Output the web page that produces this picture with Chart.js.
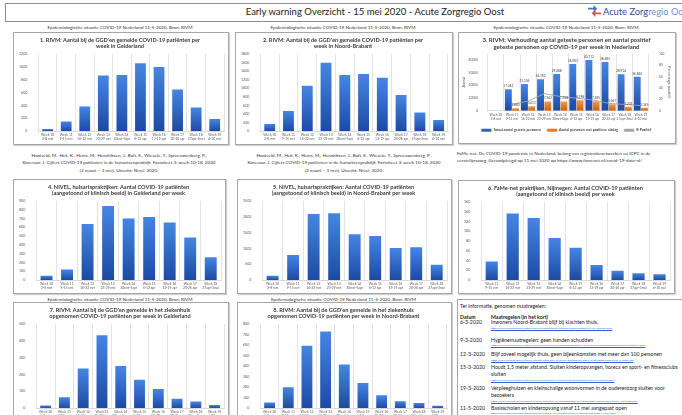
<!DOCTYPE html>
<html>
<head>
<meta charset="utf-8">
<script src="https://cdn.jsdelivr.net/npm/chart.js@4"></script>
<style>
    body { margin: 0; width: 682px; height: 415px; overflow: hidden; background: #fff; font-family: 'Lato', sans-serif; color: #333; position: relative; }
    .abs { position: absolute; }
    .box { position: absolute; border: 1px solid #a6a6a6; box-shadow: 1px 1px 1px #d0d0d0; background: #fff; }
    .box canvas { display: block; }
    .sub { position: absolute; font-size: 4.6px; color: #333; text-align: center; white-space: nowrap; }
    .cite { position: absolute; font-size: 4.6px; line-height: 7.4px; color: #333; text-align: center; }
    .info { font-size: 5.2px; color: #222; }
    .info .row { position: absolute; left: 2px; }
    .info .d { position: absolute; left: 2px; }
    .info .m { position: absolute; left: 33px; width: 188px; line-height: 6.8px; }
    .info .l { position: absolute; left: 33px; font-size: 2.6px; color: #2e62c8; text-decoration: underline; white-space: nowrap; }
</style>
</head>
<body>

<div class="abs" style="left:5px; top:3px; width:676px; height:17px; border:1px solid #8c8c8c;"></div>
<div class="abs" style="left:200px; top:6px; width:350px; text-align:center; font-size:9.5px; color:#222;">Early warning Overzicht - 15 mei 2020 - Acute Zorgregio Oost</div>
<svg class="abs" style="left:588px; top:5px;" width="13" height="12" viewBox="0 0 14 13">
    <polygon points="0,3 6,3 6,0 10,4 6,8 6,5 0,5" fill="#3d7cc9"/>
    <polygon points="14,8 8,8 8,5 4,9 8,13 8,10 14,10" fill="#d9534f"/>
</svg>
<div class="abs" style="left:603px; top:5.5px; font-size:9.3px; white-space:nowrap;"><span style="color:#2f4f9a;">Acute Zorg</span><span style="color:#7b8fd6;">regio Oost</span></div>

<div class="sub" style="left:13px; top:24px; width:214px;">Epidemiologische situatie COVID-19 Nederland 11-5-2020. Bron: RIVM</div>
<div class="sub" style="left:235px; top:24px; width:216px;">Epidemiologische situatie COVID-19 Nederland 11-5-2020. Bron: RIVM</div>
<div class="sub" style="left:458px; top:24px; width:216px;">Epidemiologische situatie COVID-19 Nederland 11-5-2020. Bron: RIVM</div>

<div class="box" style="left:13px; top:32px; width:214px; height:111px;"><canvas id="c1"></canvas></div>
<div class="box" style="left:235px; top:32px; width:216px; height:111px;"><canvas id="c2"></canvas></div>
<div class="box" style="left:458px; top:32px; width:216px; height:110px;"><canvas id="c3"></canvas></div>

<div class="cite" style="left:8px; top:152px; width:222px;">Hooiveld, M., Hek, K., Heins, M., Hendriksen, J., Bolt, E., Wiezele, Y., Spreeuwenberg, P.,<br>Korevaar, J. Cijfers COVID-19 patiënten in de huisartsenpraktijk. Factsheet 3: week 10-18, 2020<br>(2 maart – 3 mei). Utrecht: Nivel, 2020.</div>
<div class="cite" style="left:232px; top:152px; width:224px;">Hooiveld, M., Hek, K., Heins, M., Hendriksen, J., Bolt, E., Wiezele, Y., Spreeuwenberg, P.,<br>Korevaar, J. Cijfers COVID-19 patiënten in de huisartsenpraktijk. Factsheet 3: week 10-18, 2020<br>(2 maart – 3 mei). Utrecht: Nivel, 2020.</div>
<div class="cite" style="left:457px; top:150px; width:225px; text-align:left;">FaMe-net. De COVID-19 pandemie in Nederland, belang van registratienetwerken en ICPC in de<br>eerstelijnszorg. Geraadpleegd op 11 mei 2020 op https://www.famenet.nl/covid-19-data-nl/</div>

<div class="box" style="left:13px; top:179px; width:211px; height:113px;"><canvas id="c4"></canvas></div>
<div class="box" style="left:237px; top:179px; width:213px; height:113px;"><canvas id="c5"></canvas></div>
<div class="box" style="left:458px; top:180px; width:215px; height:112px;"><canvas id="c6"></canvas></div>

<div class="sub" style="left:13px; top:296px; width:214px;">Epidemiologische situatie COVID-19 Nederland 11-5-2020. Bron: RIVM</div>
<div class="sub" style="left:237px; top:296px; width:213px;">Epidemiologische situatie COVID-19 Nederland 11-5-2020. Bron: RIVM</div>

<div class="box" style="left:13px; top:302px; width:214px; height:118px;"><canvas id="c7"></canvas></div>
<div class="box" style="left:237px; top:302px; width:213px; height:118px;"><canvas id="c8"></canvas></div>

<div class="box info" style="left:457px; top:299px; width:226px; height:120px; box-shadow:none;">
    <div class="row" style="top:3px;">Ter informatie, genomen maatregelen:</div>
    <div class="d" style="top:14px; font-weight:bold;">Datum</div>
    <div class="m" style="top:14px; font-weight:bold;">Maatregelen (in het kort)</div>
    <div class="d" style="top:19px;">6-3-2020</div>
    <div class="m" style="top:19px;">Inwoners Noord-Brabant blijf bij klachten thuis.</div>
    <div class="l" style="top:26px;">https://www.rijksoverheid.nl/actueel/nieuws/2020/03/06/inwoners-noord-brabant-blijf-bij-klachten-thuis</div>
    <div class="d" style="top:37px;">9-3-2020</div>
    <div class="m" style="top:37px;">Hygiënemaatregelen: geen handen schudden</div>
    <div class="l" style="top:43px;">https://www.rijksoverheid.nl/actueel/nieuws/2020/03/09/hygienemaatregelen-van-belang-om-verspreiding-coronavirus-tegen-te-gaan</div>
    <div class="d" style="top:51px;">12-3-2020</div>
    <div class="m" style="top:51px;">Blijf zoveel mogelijk thuis, geen bijeenkomsten met meer dan 100 personen</div>
    <div class="l" style="top:58px;">https://www.rijksoverheid.nl/actueel/nieuws/2020/03/12/nieuwe-maatregelen-tegen-verspreiding-coronavirus-in-nederland</div>
    <div class="d" style="top:64px;">15-3-2020</div>
    <div class="m" style="top:64px;">Houdt 1,5 meter afstand. Sluiten kinderopvangen, horeca en sport- en fitnessclubs sluiten</div>
    <div class="l" style="top:78px;">https://www.rijksoverheid.nl/actueel/nieuws/2020/03/15/aanvullende-maatregelen-onderwijs-horeca-sport</div>
    <div class="d" style="top:85px;">19-3-2020</div>
    <div class="m" style="top:85px;">Verpleeghuizen en kleinschalige woonvormen in de ouderenzorg sluiten voor bezoekers</div>
    <div class="l" style="top:99px;">https://www.rijksoverheid.nl/actueel/nieuws/2020/03/19/verpleeghuizen-en-kleinschalige-woonvormen-sluiten-voor-bezoekers</div>
    <div class="d" style="top:105px;">11-5-2020</div>
    <div class="m" style="top:105px;">Basisscholen en kinderopvang vanaf 11 mei aangepast open</div>
    <div class="l" style="top:111px;">https://www.rijksoverheid.nl/actueel/nieuws/2020/04/21/basisscholen-en-kinderopvang-vanaf-11-mei-open</div>
</div>

<script>
// Week labels (x axis)
const weeks10to19 = [
    ['Week 10', '2-8 mrt'], ['Week 11', '9-15 mrt'], ['Week 12', '16-22 mrt'], ['Week 13', '23-29 mrt'],
    ['Week 14', '30mrt-5apr'], ['Week 15', '6-12 apr'], ['Week 16', '13-19 apr'], ['Week 17', '20-26 apr'],
    ['Week 18', '27apr-3mei'], ['Week 19', '4-10 mei']
];
const weeks10to18 = weeks10to19.slice(0, 9);
const weeks11to19 = weeks10to19.slice(1);

// Series values
const ggdGelderland = [31, 148, 383, 862, 872, 1056, 995, 648, 367, 189];
const ggdBrabant = [167, 471, 1055, 1595, 1306, 1329, 1245, 843, 433, 258];
const testedNL = [null, 17061, 21136, 24782, 29088, 36903, 40112, 38585, 28914, 26824];
const positiveNL = [null, 1860, 3611, 7362, 7358, 8298, 7495, 5067, 3232, 2345];
const pctPositiveNL = [null, 11, 17, 30, 25, 22, 19, 13, 11, 9];
const nivelGelderland = [50, 119, 636, 843, 701, 716, 655, 483, 260];
const nivelBrabant = [137, 791, 2089, 2110, 1445, 1392, 1013, 1034, 485];
const famenetNijmegen = [38, 136, 127, 86, 66, 31, 19, 14, 12];
const hospGelderland = [15, 65, 235, 433, 250, 168, 114, 56, 39, 19];
const hospBrabant = [52, 197, 593, 728, 414, 238, 121, 66, 48, 21];

const FONT = "'Lato', sans-serif";
const AXIS_COLOR = '#595959';

// per-bar vertical gradient
const barGradient = (top, bottom) => (ctx) => {
    const chart = ctx.chart;
    const area = chart.chartArea;
    if (!area || ctx.raw == null) return bottom;
    const y = chart.scales[ctx.dataset.yAxisID || 'y'].getPixelForValue(ctx.raw);
    const g = chart.ctx.createLinearGradient(0, y, 0, area.bottom);
    g.addColorStop(0, top);
    g.addColorStop(1, bottom);
    return g;
};

const makeBarChart = (id, labels, data, max, step, title) => {
    return new Chart(document.getElementById(id).getContext('2d'), {
        type: 'bar',
        data: {
            labels: labels,
            datasets: [{
                data: data,
                backgroundColor: barGradient('#4586e3', '#1c4aa3'),
                categoryPercentage: 1,
                barPercentage: 0.58
            }]
        },
        options: {
            responsive: true,
            maintainAspectRatio: false,
            animation: false,
            layout: { padding: { left: 2, right: 4, top: 0, bottom: 1 } },
            plugins: {
                legend: { display: false },
                tooltip: { enabled: false },
                title: {
                    display: true,
                    text: title,
                    color: '#3a3a3a',
                    padding: { top: 4, bottom: 4 },
                    font: { size: 5.6, family: FONT, lineHeight: 1.15 }
                }
            },
            scales: {
                y: {
                    min: 0,
                    max: max,
                    border: { display: false },
                    grid: { display: false },
                    ticks: {
                        stepSize: step,
                        padding: 3,
                        color: AXIS_COLOR,
                        font: { size: 3.6, family: FONT },
                        callback: (v) => String(v)
                    }
                },
                x: {
                    border: { color: '#d9d9d9' },
                    grid: { display: true, offset: true, color: '#e3e3e3', drawTicks: false },
                    ticks: {
                        padding: 2,
                        maxRotation: 0,
                        autoSkip: false,
                        color: AXIS_COLOR,
                        font: { size: 3.3, family: FONT, lineHeight: 1.2 }
                    }
                }
            }
        }
    });
};

makeBarChart('c1', weeks10to19, ggdGelderland, 1200, 200,
    ["1. RIVM: Aantal bij de GGD'en gemelde COVID-19 patiënten per", 'week in Gelderland']);
makeBarChart('c2', weeks10to19, ggdBrabant, 1800, 200,
    ["2. RIVM: Aantal bij de GGD'en gemelde COVID-19 patiënten per", 'week in Noord-Brabant']);
makeBarChart('c4', weeks10to18, nivelGelderland, 900, 100,
    ['4. NIVEL, huisartspraktijken: Aantal COVID-19 patiënten', '(aangetoond of klinisch beeld) in Gelderland per week']);
makeBarChart('c5', weeks10to18, nivelBrabant, 2500, 500,
    ['5. NIVEL, huisartspraktijken: Aantal COVID-19 patiënten', '(aangetoond of klinisch beeld) in Noord-Brabant per week']);
makeBarChart('c6', weeks11to19, famenetNijmegen, 160, 20,
    ['6. FaMe-net praktijken, Nijmegen: Aantal COVID-19 patiënten', '(aangetoond of klinisch beeld) per week']);
makeBarChart('c7', weeks10to19, hospGelderland, 500, 100,
    ["7. RIVM: Aantal bij de GGD'en gemelde in het ziekenhuis", 'opgenomen COVID-19 patiënten per week in Gelderland']);
makeBarChart('c8', weeks10to19, hospBrabant, 800, 100,
    ["8. RIVM: Aantal bij de GGD'en gemelde in het ziekenhuis", 'opgenomen COVID-19 patiënten per week in Noord-Brabant']);

// value labels above bars (chart 3)
const barValueLabels = {
    id: 'barValueLabels',
    afterDatasetsDraw(chart) {
        const ctx = chart.ctx;
        ctx.save();
        ctx.font = "3.2px " + FONT;
        ctx.fillStyle = '#404040';
        ctx.textAlign = 'center';
        ctx.textBaseline = 'bottom';
        [0, 1].forEach((di) => {
            const meta = chart.getDatasetMeta(di);
            meta.data.forEach((bar, i) => {
                const v = chart.data.datasets[di].data[i];
                if (v == null) return;
                ctx.fillText(v.toLocaleString('nl-NL'), bar.x, bar.y - 1.5);
            });
        });
        ctx.restore();
    }
};

// Chart 3: tested vs positive, Netherlands
new Chart(document.getElementById('c3').getContext('2d'), {
    type: 'bar',
    data: {
        labels: weeks10to19,
        datasets: [{
            label: 'Totaal aantal geteste personen',
            data: testedNL,
            backgroundColor: barGradient('#4586e3', '#1c4aa3'),
            categoryPercentage: 0.9,
            barPercentage: 0.95,
            order: 2
        }, {
            label: 'Aantal personen met positieve uitslag',
            data: positiveNL,
            backgroundColor: barGradient('#f49a45', '#c9600f'),
            categoryPercentage: 0.9,
            barPercentage: 0.95,
            order: 2
        }, {
            type: 'line',
            label: '% Positief',
            data: pctPositiveNL,
            yAxisID: 'y1',
            borderColor: '#a5a5a5',
            backgroundColor: '#a5a5a5',
            borderWidth: 0.9,
            pointRadius: 0,
            tension: 0,
            order: 1
        }]
    },
    options: {
        responsive: true,
        maintainAspectRatio: false,
        animation: false,
        layout: { padding: { left: 1, right: 2, top: 0, bottom: 1 } },
        plugins: {
            tooltip: { enabled: false },
            title: {
                display: true,
                text: ['3. RIVM: Verhouding aantal geteste personen en aantal positief', 'geteste personen op COVID-19 per week in Nederland'],
                color: '#3a3a3a',
                padding: { top: 4, bottom: 3 },
                font: { size: 6, family: FONT, lineHeight: 1.15 }
            },
            legend: {
                position: 'bottom',
                labels: {
                    boxWidth: 10,
                    boxHeight: 3,
                    padding: 6,
                    color: AXIS_COLOR,
                    font: { size: 3.6, family: FONT },
                    generateLabels: (chart) => chart.data.datasets.map((ds, i) => ({
                        text: ds.label,
                        fillStyle: i === 0 ? '#2d62c4' : (i === 1 ? '#e07a25' : '#a5a5a5'),
                        strokeStyle: i === 0 ? '#2d62c4' : (i === 1 ? '#e07a25' : '#a5a5a5'),
                        lineWidth: 0,
                        datasetIndex: i
                    }))
                }
            }
        },
        scales: {
            y: {
                min: 0,
                max: 45000,
                border: { display: false },
                grid: { display: false },
                title: { display: true, text: 'Aantal', color: AXIS_COLOR, padding: 1, font: { size: 3.8, family: FONT } },
                ticks: { stepSize: 5000, padding: 2, color: AXIS_COLOR, font: { size: 3.2, family: FONT }, callback: (v) => String(v) }
            },
            y1: {
                position: 'right',
                min: 0,
                max: 100,
                border: { display: false },
                grid: { display: false },
                title: { display: true, text: 'Percentage positief', color: AXIS_COLOR, padding: 1, font: { size: 3.8, family: FONT } },
                ticks: { stepSize: 10, padding: 2, color: AXIS_COLOR, font: { size: 3.2, family: FONT } }
            },
            x: {
                border: { color: '#d9d9d9' },
                grid: { display: true, offset: true, color: '#e3e3e3', drawTicks: false },
                ticks: { padding: 2, maxRotation: 0, autoSkip: false, color: AXIS_COLOR, font: { size: 3.2, family: FONT, lineHeight: 1.2 } }
            }
        }
    },
    plugins: [barValueLabels]
});
</script>
</body>
</html>
